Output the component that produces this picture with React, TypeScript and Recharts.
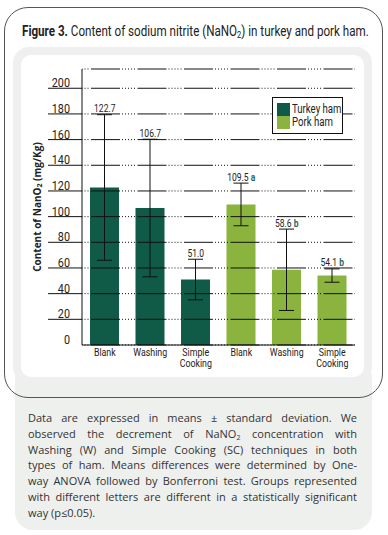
import React from "react"
import {
  ComposedChart,
  Bar,
  Cell,
  ErrorBar,
  Line,
  LabelList,
  XAxis,
  YAxis,
  CartesianGrid,
  Legend,
} from "recharts"

const categories = ["Blank", "Washing", "Simple Cooking", "Blank", "Washing", "Simple Cooking"]
const groups     = ["Turkey ham", "Turkey ham", "Turkey ham", "Pork ham", "Pork ham", "Pork ham"]
const means      = [122.7, 106.7, 51.0, 109.5, 58.6, 54.1]
const sds        = [56.7, 53.6, 15.8, 16.6, 31.7, 5.2]
const letters    = ["", "", "", "a", "b", "b"]
const yTicks     = [0, 20, 40, 60, 80, 100, 120, 140, 160, 180, 200]
const legendItems = ["Turkey ham", "Pork ham"]

const groupColors: Record<string, string> = {
  "Turkey ham": "#105a48",
  "Pork ham":   "#8ab43e",
}

const notes = [
  "Data are expressed in means ± standard deviation. We",
  "observed the decrement of NaNO₂ concentration with",
  "Washing (W) and Simple Cooking (SC) techniques in both",
  "types of ham. Means differences were determined by One-",
  "way ANOVA followed by Bonferroni test. Groups represented",
  "with different letters are different in a statistically significant",
  "way (p≤0.05).",
]

// no condensed face installed -> Roboto squeezed horizontally
const NARROW = 'Roboto, "Noto Sans", sans-serif'
const BODY   = '"Open Sans", "Noto Sans", sans-serif'
const SQUEEZE = 0.8

const data = categories.map((cat, i) => ({
  key:    i,
  cat,
  group:  groups[i],
  value:  means[i],
  sd:     sds[i],
  upper:  means[i] + sds[i],
  letter: letters[i],
}))

function withSub(text: string, subSize = 8) {
  const parts = text.split("₂")
  return parts.map((p, i) => (
    <React.Fragment key={i}>
      {p}
      {i < parts.length - 1 && (
        <sub style={{ fontSize: subSize, lineHeight: 0, verticalAlign: "-0.25em" }}>2</sub>
      )}
    </React.Fragment>
  ))
}

function YTick({ x, y, payload }: any) {
  return (
    <g>
      {payload.value !== 0 && (
        <line x1={x} x2={x + 34} y1={y} y2={y} stroke="#111" strokeWidth={1} />
      )}
      <text
        transform={`translate(${x + 22},${y - 1}) scale(${SQUEEZE},1)`}
        textAnchor="end"
        fontSize={13.5}
        fill="#222"
        fontFamily={NARROW}
      >
        {payload.value}
      </text>
    </g>
  )
}

function CatTick({ x, y, payload }: any) {
  const words = categories[payload.value].split(" ")
  return (
    <text
      transform={`translate(${x},${y}) scale(${SQUEEZE},1)`}
      textAnchor="middle"
      fontSize={11}
      fill="#222"
      fontFamily={NARROW}
    >
      {words.map((w, i) => (
        <tspan key={i} x={0} dy={i === 0 ? 11.5 : 11}>
          {w}
        </tspan>
      ))}
    </text>
  )
}

function EdgeTick({ x, y }: any) {
  return <line x1={x} x2={x} y1={y - 7} y2={y + 2} stroke="#111" strokeWidth={1} />
}

function ValueLabel(props: any) {
  const { x, y, index } = props
  const row = data[index]
  return (
    <text
      transform={`translate(${x},${y - 2.5}) scale(0.85,1)`}
      textAnchor="middle"
      fontSize={10}
      fill="#222"
      fontFamily={NARROW}
    >
      {row.value.toFixed(1)}
      {row.letter && (
        <tspan fontWeight="bold" fill="#2a6b63">
          {" " + row.letter}
        </tspan>
      )}
    </text>
  )
}

function AxisTitle({ viewBox }: any) {
  const cx = viewBox.x + 37
  const cy = viewBox.y + viewBox.height / 2
  return (
    <text
      x={cx}
      y={cy}
      transform={`rotate(-90 ${cx} ${cy})`}
      textAnchor="middle"
      dominantBaseline="central"
      fontSize={10}
      fontWeight="bold"
      fill="#222"
      fontFamily={BODY}
    >
      Content of NanO<tspan fontSize={7} dy={2}>2</tspan>
      <tspan dy={-2}> (mg/Kg)</tspan>
    </text>
  )
}

function LegendBox() {
  return (
    <div
      style={{
        border:     "1px solid #111",
        background: "#fff",
        boxSizing:  "border-box",
        width:      71,
        height:     37,
        padding:    "5px 0 0 4px",
        fontFamily: NARROW,
        fontSize:   12,
        color:      "#222",
        whiteSpace: "nowrap",
      }}
    >
      {legendItems.map((name) => (
        <div key={name} style={{ display: "flex", alignItems: "center", height: 13 }}>
          <span style={{ width: 13, height: 13, background: groupColors[name], marginRight: 2, flex: "none" }} />
          <span
            style={{
              display:         "inline-block",
              lineHeight:      "13px",
              transform:       `scaleX(${SQUEEZE})`,
              transformOrigin: "left center",
            }}
          >
            {name}
          </span>
        </div>
      ))}
    </div>
  )
}

export default function App() {
  return (
    <div
      style={{
        position:   "absolute",
        left:       0,
        top:        0,
        width:      388,
        height:     535,
        background: "#fff",
        overflow:   "hidden",
      }}
    >
      {/* notes box */}
      <div
        style={{
          position:     "absolute",
          left:         15,
          top:          360,
          width:        357,
          height:       170,
          background:   "#eef0ee",
          borderRadius: 18,
        }}
      />
      {/* figure frame */}
      <div
        style={{
          position:     "absolute",
          left:         4,
          top:          7,
          width:        379,
          height:       391,
          border:       "1px solid #555",
          borderRadius: 24,
          boxSizing:    "border-box",
        }}
      />
      <div
        style={{
          position:     "absolute",
          left:         13,
          top:          47,
          width:        359,
          height:       336,
          background:   "#efefef",
          borderRadius: 16,
        }}
      />
      <div
        style={{
          position:     "absolute",
          left:         21,
          top:          55,
          width:        343,
          height:       322,
          background:   "#fff",
          borderRadius: 10,
        }}
      />

      <div
        style={{
          position:        "absolute",
          left:            22,
          top:             23,
          fontFamily:      NARROW,
          fontSize:        14,
          lineHeight:      "16px",
          color:           "#222",
          whiteSpace:      "nowrap",
          transform:       "scaleX(0.83)",
          transformOrigin: "left center",
        }}
      >
        <b>Figure 3.</b> {withSub("Content of sodium nitrite (NaNO₂) in turkey and pork ham.", 9)}
      </div>

      <div style={{ position: "absolute", left: 0, top: 0 }}>
        <ComposedChart
          width={388}
          height={400}
          data={data}
          margin={{ top: 69, right: 33, bottom: 0, left: 0 }}
        >
          <XAxis
            xAxisId="edges"
            type="number"
            domain={[0, categories.length]}
            ticks={categories.map((_, i) => i + 1)}
            height={0}
            axisLine={false}
            tickLine={false}
            tickSize={0}
            tickMargin={0}
            tick={<EdgeTick />}
          />
          <XAxis
            xAxisId="cat"
            dataKey="key"
            height={55}
            interval={0}
            axisLine={{ stroke: "#111" }}
            tickLine={false}
            tickSize={0}
            tickMargin={0}
            tick={<CatTick />}
          />
          <YAxis
            width={82}
            domain={[0, 215]}
            ticks={yTicks}
            allowDataOverflow
            axisLine={{ stroke: "#111" }}
            tickLine={false}
            tickSize={34}
            tickMargin={0}
            tick={<YTick />}
            label={{ content: <AxisTitle /> }}
          />

          <Bar xAxisId="cat" dataKey="value" barSize={29} isAnimationActive={false}>
            {data.map((d) => (
              <Cell key={d.key} fill={groupColors[d.group]} />
            ))}
            <ErrorBar dataKey="sd" width={7.5} stroke="#111" strokeWidth={1} />
          </Bar>

          <CartesianGrid
            xAxisId="cat"
            vertical={false}
            stroke="#111"
            strokeDasharray="29 2 1 2 1 2 1 2 1 2 1 2.5"
            strokeDashoffset={37.5}
            zIndex={350}
          />

          <Line
            xAxisId="cat"
            dataKey="upper"
            stroke="none"
            dot={false}
            activeDot={false}
            legendType="none"
            isAnimationActive={false}
          >
            <LabelList dataKey="value" content={<ValueLabel />} />
          </Line>

          <Legend
            verticalAlign="middle"
            layout="horizontal"
            wrapperStyle={{ left: 272, top: 97, width: "auto", height: "auto" }}
            content={() => <LegendBox />}
          />
        </ComposedChart>
      </div>

      <div
        style={{
          position:   "absolute",
          left:       28,
          top:        410,
          width:      329,
          fontFamily: BODY,
          fontSize:   11,
          lineHeight: "15.8px",
          color:      "#333",
        }}
      >
        {notes.map((line, i) => (
          <div
            key={i}
            style={{
              whiteSpace:    "nowrap",
              textAlign:     i < notes.length - 1 ? "justify" : "left",
              textAlignLast: i < notes.length - 1 ? "justify" : "left",
            }}
          >
            {withSub(line, 7)}
          </div>
        ))}
      </div>
    </div>
  )
}
